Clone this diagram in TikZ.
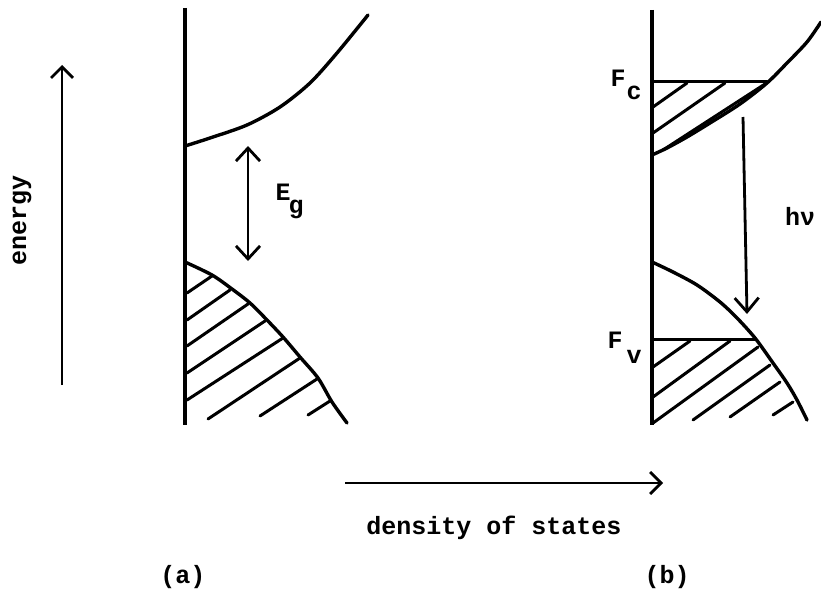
\documentclass[tikz,border=0pt]{standalone}
\usepackage{fontspec}
\setmonofont{Liberation Mono}
\usetikzlibrary{arrows.meta}
\begin{document}
\begin{tikzpicture}[x=1pt,y=-1pt,
  lbl/.style={font=\ttfamily\bfseries\fontsize{25}{30}\selectfont, inner sep=0pt},
  bandcurve/.style={line width=3.4pt, line cap=round, line join=round},
  hatch/.style={line width=3pt, line cap=round},
  axisline/.style={line width=3.4pt},
  barb/.style={-{Straight Barb[length=11pt,width=22pt,line width=2.8pt]}},
  arr/.style={line width=2.8pt, barb},
  darr/.style={line width=2.8pt, {Straight Barb[length=13pt,width=24pt,line width=2.8pt]}-{Straight Barb[length=13pt,width=24pt,line width=2.8pt]}}]
\useasboundingbox (0,0) rectangle (821,607);

% ---------- axes labels ----------
\coordinate (enB) at (62,385);
\coordinate (enT) at (62,65);
\draw[arr] (enB) -- (enT);
\node[lbl, rotate=90] (energy) at (22,220) {energy};

\coordinate (dsL) at (345,483);
\coordinate (dsR) at (663,483);
\draw[arr] (dsL) -- (dsR);
\node[lbl] (dos) at (494,528) {density of states};

\node[lbl] (la) at (183,577) {(a)};
\node[lbl] (lb) at (667,577) {(b)};

% ---------- panel (a) ----------
\coordinate (aT) at (185,8);
\coordinate (aB) at (185,425);
\draw[axisline] (aT) -- (aB);
\draw[bandcurve] plot[smooth] coordinates {(185,146) (210,138) (247,125) (280,107) (310,83) (337,53) (368,15)};
\draw[bandcurve] plot[smooth] coordinates {(185,262) (212,275) (232,289) (250,303) (267,320) (283,337) (300,357) (318,378) (332,402) (347,423)};
\draw[hatch] (187,293) -- (212,276);
\draw[hatch] (187,320) -- (230,290);
\draw[hatch] (187,346) -- (248,304);
\draw[hatch] (187,373) -- (265,321);
\draw[hatch] (187,400) -- (283,338);
\draw[hatch] (208,419) -- (300,358);
\draw[hatch] (260,416) -- (317,379);
\draw[hatch] (308,415) -- (330,401);

\coordinate (egT) at (248,146);
\coordinate (egB) at (248,261);
\draw[darr] (egB) -- (egT);
\node[lbl] (Eg) at (283,192) {E};
\node[lbl] (Egs) at (296,209) {g};

% ---------- panel (b) ----------
\coordinate (bT) at (652,10);
\coordinate (bB) at (652,425);
\draw[axisline] (bT) -- (bB);
% conduction band
\draw[bandcurve] plot[smooth] coordinates {(652,155) (667,148) (687,137) (710,123) (740,104) (767,83) (787,63) (807,42) (821,22)};
\coordinate (fcL) at (652,82);
\coordinate (fcR) at (767,82);
\draw[hatch] (fcL) -- (fcR);
\draw[hatch] (653,107) -- (687,83);
\draw[hatch] (653,133) -- (725,83);
\draw[hatch] (663,150) -- (765,84);
\node[lbl] (Fc) at (618,78) {F};
\node[lbl] (Fcs) at (634,93) {c};

% valence band
\draw[bandcurve] plot[smooth] coordinates {(652,262) (673,272) (697,285) (720,302) (737,318) (755,338) (773,363) (787,383) (797,400) (807,420)};
\coordinate (fvL) at (652,339);
\coordinate (fvR) at (755,339);
\draw[hatch] (fvL) -- (fvR);
\draw[hatch] (653,367) -- (690,341);
\draw[hatch] (653,397) -- (730,341);
\draw[hatch] (653,423) -- (758,347);
\draw[hatch] (693,420) -- (770,365);
\draw[hatch] (730,417) -- (780,382);
\draw[hatch] (773,415) -- (793,402);
\node[lbl] (Fv) at (615,340) {F};
\node[lbl] (Fvs) at (634,357) {v};

% transition
\coordinate (hvT) at (743,117);
\coordinate (hvB) at (747,314);
\draw[line width=2.8pt, -{Straight Barb[length=14pt,width=24pt,line width=2.8pt]}] (hvT) -- (hvB);
\node[lbl] (hv) at (800,216) {hν};
\end{tikzpicture}
\end{document}
